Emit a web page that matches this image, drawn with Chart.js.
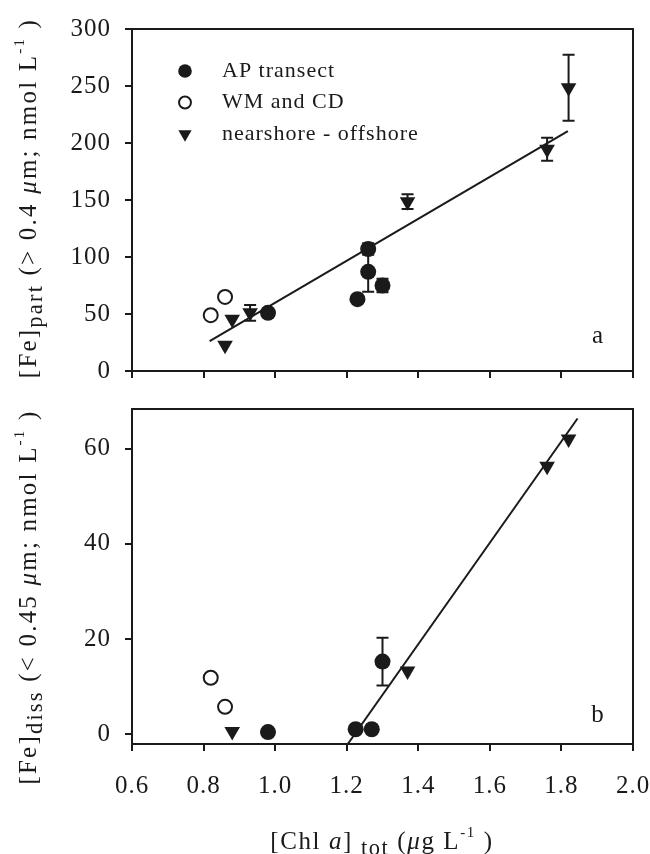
<!DOCTYPE html>
<html>
<head>
<meta charset="utf-8">
<script src="https://cdn.jsdelivr.net/npm/chart.js@4.4.0/dist/chart.umd.min.js"></script>
<style>
  html, body { margin: 0; padding: 0; background: #fff; overflow: hidden; width: 650px; height: 854px; }
  #wrap { position: relative; width: 650px; height: 854px; }
  canvas { position: absolute; left: 0; }
  #ca { top: 0; }
  #cb { top: 380px; }
  .lbl { position: absolute; white-space: nowrap; font-family: 'Liberation Serif', serif; font-size: 25px;
         color: #1a1a1a; letter-spacing: 2.2px; transform: translate(-50%, -50%); line-height: 1; }
  .rot { transform: translate(-50%, -50%) rotate(-90deg); }
  .lbl sub { font-size: 0.9em; vertical-align: -0.3em; line-height: 0; }
  .lbl sup { font-size: 0.6em; vertical-align: 0.75em; line-height: 0; }
</style>
</head>
<body>
<div id="wrap">
  <canvas id="ca" width="700" height="400" style="width:700px;height:400px"></canvas>
  <canvas id="cb" width="700" height="474" style="width:700px;height:474px"></canvas>
  <div class="lbl rot" style="left:27px;top:198px">[Fe]<sub>part</sub> (&gt; 0.4 <i>μ</i>m; nmol L<sup>-1</sup> )</div>
  <div class="lbl rot" style="left:27px;top:597px">[Fe]<sub>diss</sub> (&lt; 0.45 <i>μ</i>m; nmol L<sup>-1</sup> )</div>
  <div class="lbl" style="left:382px;top:840px;letter-spacing:1.6px">[Chl <i>a</i>] <sub>tot</sub> (<i>μ</i>g L<sup>-1</sup> )</div>
</div>
<script>
// ---- data ----
const xTicks = [0.6, 0.8, 1.0, 1.2, 1.4, 1.6, 1.8, 2.0];
const yTicksA = [0, 50, 100, 150, 200, 250, 300];
const yTicksB = [0, 20, 40, 60];

// panel a: particulate Fe
const apXa = [0.98, 1.23, 1.26, 1.26, 1.30];
const apYa = [51, 63, 87, 107, 75];
const apErrA = [0, 0, 17.5, 5, 6];
const wmXa = [0.82, 0.86];
const wmYa = [49, 65];
const nsXa = [0.86, 0.88, 0.93, 1.37, 1.76, 1.82];
const nsYa = [22.5, 45.5, 51, 148.5, 194.5, 248.5];
const nsErrA = [0, 0, 7, 6.5, 10, 29];
const fitXa = [0.817, 1.818];
const fitYa = [26.3, 210.5];

// panel b: dissolved Fe
const apXb = [0.98, 1.225, 1.27, 1.30];
const apYb = [0.5, 1.1, 1.1, 15.3];
const apErrB = [0, 0, 0, 5];
const wmXb = [0.82, 0.86];
const wmYb = [11.9, 5.8];
const nsXb = [0.88, 1.37, 1.76, 1.82];
const nsYb = [0.6, 13.3, 56.3, 62];
const nsErrB = [0, 0, 0, 0];
const fitXb = [1.203, 1.845];
const fitYb = [-2, 66.3];

const INK = '#1a1a1a';
const SERIF = "'Liberation Serif', serif";
Chart.defaults.font.family = SERIF;
Chart.defaults.color = INK;

const pts = (xs, ys) => xs.map((x, i) => ({ x: x, y: ys[i] }));

function seriesSets(apX, apY, apErr, wmX, wmY, nsX, nsY, nsErr, fX, fY) {
  return [
    { label: 'AP transect', data: pts(apX, apY), errors: apErr,
      pointStyle: 'circle', pointRadius: 8, backgroundColor: INK, borderColor: INK, borderWidth: 0 },
    { label: 'WM and CD', data: pts(wmX, wmY),
      pointStyle: 'circle', pointRadius: 7, backgroundColor: '#fff', borderColor: INK, borderWidth: 2 },
    { label: 'nearshore - offshore', data: pts(nsX, nsY), errors: nsErr,
      pointStyle: 'triangle', pointRadius: 9, rotation: 180, backgroundColor: INK, borderColor: INK, borderWidth: 0 },
    { type: 'line', label: 'fit', data: pts(fX, fY), showLine: true, pointRadius: 0,
      borderColor: INK, borderWidth: 2, fill: false, inLegend: false }
  ];
}

// error bars through the scales
const errorBars = {
  id: 'errorBars',
  beforeDatasetsDraw(chart) {
    const ctx = chart.ctx, xs = chart.scales.x, ys = chart.scales.y;
    ctx.save();
    ctx.strokeStyle = INK;
    ctx.lineWidth = 2;
    chart.data.datasets.forEach(ds => {
      if (!ds.errors) return;
      ds.data.forEach((p, i) => {
        const e = ds.errors[i];
        if (!e) return;
        const px = xs.getPixelForValue(p.x);
        const top = ys.getPixelForValue(p.y + e), bot = ys.getPixelForValue(p.y - e);
        ctx.beginPath();
        ctx.moveTo(px, top); ctx.lineTo(px, bot);
        ctx.moveTo(px - 6, top); ctx.lineTo(px + 6, top);
        ctx.moveTo(px - 6, bot); ctx.lineTo(px + 6, bot);
        ctx.stroke();
      });
    });
    ctx.restore();
  }
};

// box round the plot area + panel letter + spacing of the serif text
const frame = {
  id: 'frame',
  beforeUpdate(chart) { chart.ctx.letterSpacing = '1px'; },
  beforeDraw(chart) { chart.ctx.letterSpacing = '1px'; },
  afterDraw(chart, args, opts) {
    const { ctx, chartArea: a } = chart;
    ctx.save();
    ctx.strokeStyle = INK;
    ctx.lineWidth = 2;
    ctx.strokeRect(a.left, a.top, a.right - a.left, a.bottom - a.top);
    ctx.fillStyle = INK;
    ctx.font = '25px ' + SERIF;
    ctx.textAlign = 'center';
    ctx.textBaseline = 'middle';
    ctx.fillText(opts.tag, a.right - 35, a.bottom - opts.tagDy);
    ctx.restore();
  }
};

// legend drawn inside the plot area
const innerLegend = {
  id: 'innerLegend',
  afterDraw(chart, args, opts) {
    if (!opts.show) return;
    const { ctx, chartArea: a } = chart;
    ctx.save();
    ctx.font = '22px ' + SERIF;
    ctx.textBaseline = 'middle';
    ctx.textAlign = 'left';
    let y = a.top + 42;
    chart.data.datasets.filter(ds => ds.inLegend !== false).forEach(ds => {
      const x = a.left + 53;
      ctx.fillStyle = ds.backgroundColor;
      ctx.strokeStyle = ds.borderColor;
      ctx.lineWidth = ds.borderWidth;
      Chart.helpers.drawPoint(ctx, {
        pointStyle: ds.pointStyle, radius: ds.pointRadius * 0.85,
        rotation: ds.rotation || 0, borderWidth: ds.borderWidth
      }, x, y);
      ctx.fillStyle = INK;
      ctx.fillText(ds.label, a.left + 90, y);
      y += 31.5;
    });
    ctx.restore();
  }
};

function scalesFor(yTicks, yMin, yMax, showX, xHeight, xPad) {
  return {
    x: {
      type: 'linear', min: 0.6, max: 2.0,
      afterBuildTicks: s => { s.ticks = xTicks.map(v => ({ value: v })); },
      afterFit: s => { s.height = xHeight; },
      ticks: { display: showX, padding: xPad, color: INK, font: { size: 25 },
               callback: v => v.toFixed(1) },
      grid: { drawOnChartArea: false, drawTicks: true, tickLength: 7, color: INK, lineWidth: 2 },
      border: { display: true, color: INK, width: 2 }
    },
    y: {
      type: 'linear', min: yMin, max: yMax,
      afterBuildTicks: s => { s.ticks = yTicks.map(v => ({ value: v })); },
      afterFit: s => { s.width = 132; },
      ticks: { padding: 14, color: INK, font: { size: 25 } },
      grid: { drawOnChartArea: false, drawTicks: true, tickLength: 7, color: INK, lineWidth: 2 },
      border: { display: true, color: INK, width: 2 }
    }
  };
}

new Chart(document.getElementById('ca'), {
  type: 'scatter',
  data: { datasets: seriesSets(apXa, apYa, apErrA, wmXa, wmYa, nsXa, nsYa, nsErrA, fitXa, fitYa) },
  options: {
    responsive: false, animation: false, events: [],
    layout: { padding: { top: 25, right: 67, left: 0, bottom: 0 } },
    plugins: { legend: { display: false }, tooltip: { enabled: false },
               innerLegend: { show: true }, frame: { tag: 'a', tagDy: 35 } },
    scales: scalesFor(yTicksA, 0, 300, false, 13, 0)
  },
  plugins: [errorBars, frame, innerLegend]
});

new Chart(document.getElementById('cb'), {
  type: 'scatter',
  data: { datasets: seriesSets(apXb, apYb, apErrB, wmXb, wmYb, nsXb, nsYb, nsErrB, fitXb, fitYb) },
  options: {
    responsive: false, animation: false, events: [],
    layout: { padding: { top: 7, right: 67, left: 0, bottom: 0 } },
    plugins: { legend: { display: false }, tooltip: { enabled: false },
               innerLegend: { show: false }, frame: { tag: 'b', tagDy: 29 } },
    scales: scalesFor(yTicksB, -2, 68.3, true, 110, 20)
  },
  plugins: [errorBars, frame, innerLegend]
});
</script>
</body>
</html>
